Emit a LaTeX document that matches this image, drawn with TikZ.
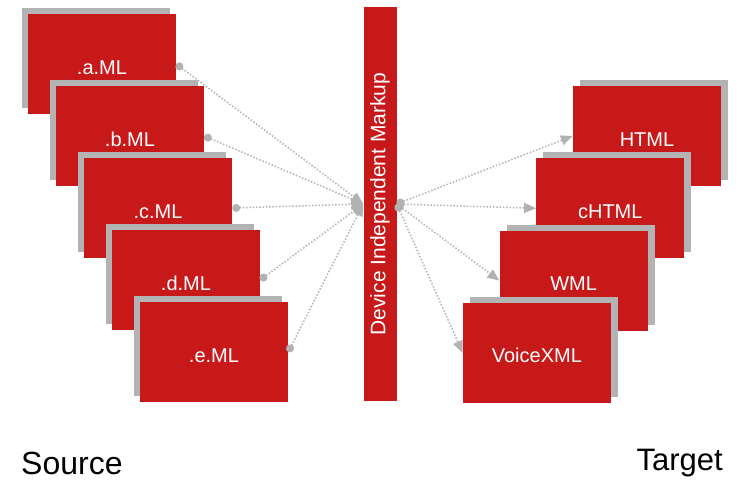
\documentclass[tikz,border=0pt]{standalone}
\usepackage{fontspec}
\setmainfont{Liberation Sans}
\usetikzlibrary{shadows}
\usetikzlibrary{arrows.meta}

\definecolor{mlRed}{HTML}{C8191A}
\definecolor{mlShadow}{HTML}{B3B3B3}
\definecolor{mlLink}{HTML}{B2B2B2}

\begin{document}
\begin{tikzpicture}[
    x=1pt, y=-1pt,          % one unit per pixel, y running down
    box/.style={fill=mlRed, inner sep=0pt,
        minimum width=148pt, minimum height=100pt,
        text=white, font=\fontsize{20}{24}\selectfont,
        text height=20pt, text depth=0pt},
    srcBox/.style={box, general shadow={fill=mlShadow, shadow xshift=-6pt, shadow yshift=6pt}},
    tgtBox/.style={box, general shadow={fill=mlShadow, shadow xshift=7pt, shadow yshift=6pt}},
    link/.style={mlLink, line width=1.5pt, dash pattern=on 1.5pt off 1.8pt},
    ]

    % Determines the boundries
    \path[use as bounding box] (0,0) rectangle (740,480);

    % The markup bar in the middle
    \node[fill=mlRed, minimum width=33pt, minimum height=394pt, inner sep=0pt] (bar) at (380,204) {};
    \node[rotate=90, text=white, font=\fontsize{21}{25}\selectfont] (barText) at (bar.center) {Device Independent Markup};

    % Source stack, shadow to the upper left
    \foreach \nm/\txt [count=\i from 0] in {aML/.a.ML, bML/.b.ML, cML/.c.ML, dML/.d.ML, eML/.e.ML}{
        \node[srcBox] (\nm) at (102+28*\i, 64+72*\i) {\txt};
    }

    % Target stack, shadow to the upper right
    \foreach \nm/\txt [count=\i from 0] in {html/HTML, chtml/cHTML, wml/WML, voice/VoiceXML}{
        \node[tgtBox] (\nm) at (647-36.7*\i, 136+72.3*\i) {\txt};
    }

    % Links into and out of the bar
    \foreach \nm in {aML, bML, cML, dML, eML}{
        \draw[link, {Circle[length=8pt]}-{Triangle[length=12pt, width=10pt]}] (\nm.east) -- (bar.west);
    }
    \foreach \nm in {html, chtml, wml, voice}{
        \draw[link, {Circle[length=8pt]}-{Triangle[length=12pt, width=10pt]}] (bar.east) -- (\nm.west);
    }

    \node[anchor=base west, inner sep=0pt, font=\fontsize{32}{38}\selectfont] (source) at (21,474) {Source};
    \node[anchor=base east, inner sep=0pt, font=\fontsize{31}{36}\selectfont] (target) at (723,470) {Target};
\end{tikzpicture}
\end{document}
